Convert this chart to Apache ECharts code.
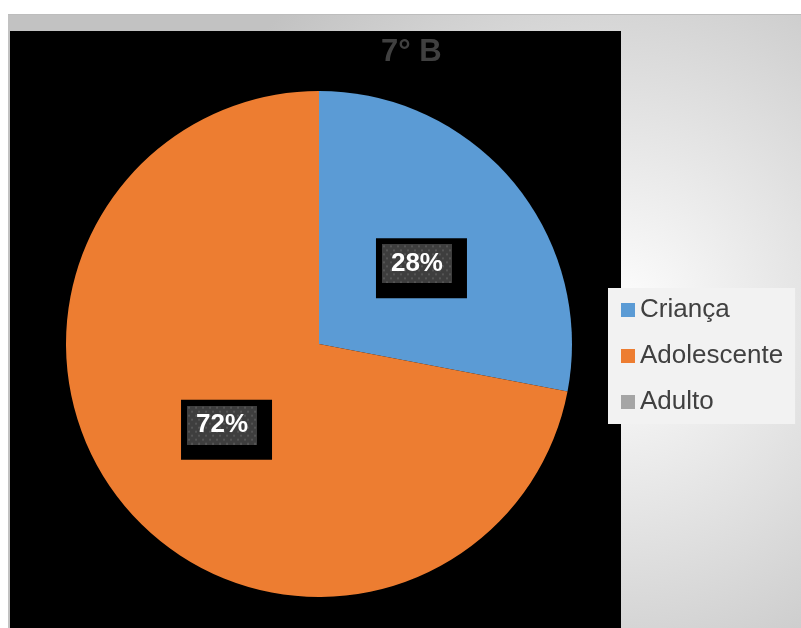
<!DOCTYPE html>
<html>
<head>
<meta charset="utf-8">
<script src="https://cdn.jsdelivr.net/npm/echarts@6/dist/echarts.min.js"></script>
<style>
  html, body { margin: 0; padding: 0; background: #ffffff; }
  #chart { width: 801px; height: 628px; }
</style>
</head>
<body>
<div id="chart"></div>
<script>
// Chart data
const chartTitle = '7° B';
const categories = ['Criança', 'Adolescente', 'Adulto'];
const values = [28, 72, 0];
const colors = ['#5b9bd5', '#ed7d31', '#a5a5a5'];

const FONT = '"Liberation Sans", Arial, Helvetica, sans-serif';

// Dotted dark fill used behind the percentage labels
function makeDotTexture(w, h) {
  const c = document.createElement('canvas');
  c.width = w; c.height = h;
  const ctx = c.getContext('2d');
  ctx.fillStyle = '#3e3e3e';
  ctx.fillRect(0, 0, w, h);
  ctx.fillStyle = '#555555';
  for (let y = 1, row = 0; y < h; y += 4, row++) {
    for (let x = (row % 2) ? 4 : 1; x < w; x += 7) {
      ctx.fillRect(x, y, 2, 2);
    }
  }
  return c;
}
const dotTexture = makeDotTexture(70, 39);

// Middle angle of each slice (clockwise from 12 o'clock), for nudging labels
const total = values.reduce((a, b) => a + b, 0);
const midAngles = [];
values.reduce((acc, v) => {
  midAngles.push((acc + v / 2) / total * Math.PI * 2);
  return acc + v;
}, 0);

const pieData = categories.map((name, i) => ({
  name: name,
  value: values[i],
  itemStyle: { color: colors[i] },
  label: { show: values[i] > 0 }
}));

const chart = echarts.init(document.getElementById('chart'), null, { renderer: 'canvas' });

chart.setOption({
  animation: false,
  backgroundColor: 'transparent',
  graphic: [
    {
      type: 'rect',
      silent: true,
      z: -10,
      shape: { x: 8, y: 14, width: 793, height: 614 },
      style: {
        fill: new echarts.graphic.RadialGradient(610, 320, 450, [
          { offset: 0, color: '#ffffff' },
          { offset: 1, color: '#c2c2c2' }
        ], true)
      }
    },
    {
      type: 'rect',
      silent: true,
      z: -9,
      shape: { x: 8, y: 14, width: 793, height: 1 },
      style: { fill: '#bdbdbd' }
    },
    {
      type: 'rect',
      silent: true,
      z: -8,
      shape: { x: 10, y: 31, width: 611, height: 597 },
      style: { fill: '#000000' }
    }
  ],
  title: {
    text: chartTitle,
    left: 381,
    top: 37,
    padding: 0,
    textStyle: {
      fontFamily: FONT,
      fontSize: 31,
      fontWeight: 'bold',
      color: '#404040'
    }
  },
  legend: {
    orient: 'vertical',
    left: 608,
    top: 288,
    padding: [9, 12, 9, 13],
    backgroundColor: '#f2f2f2',
    itemWidth: 14,
    itemHeight: 14,
    itemGap: 20,
    icon: 'rect',
    data: categories,
    textStyle: {
      fontFamily: FONT,
      fontSize: 26,
      lineHeight: 26,
      color: '#404040',
      padding: [0, 0, 0, 0]
    }
  },
  series: [
    {
      type: 'pie',
      center: [319, 344],
      radius: [0, 253],
      startAngle: 90,
      clockwise: true,
      avoidLabelOverlap: false,
      data: pieData,
      itemStyle: { borderWidth: 0 },
      emphasis: { disabled: true },
      labelLine: { show: false },
      label: {
        position: 'inside',
        formatter: '{in|{d}%}',
        backgroundColor: '#000000',
        padding: [6, 15, 15, 6],
        rich: {
          in: {
            fontFamily: FONT,
            fontSize: 26,
            fontWeight: 'bold',
            color: '#ffffff',
            width: 70,
            height: 39,
            lineHeight: 39,
            align: 'center',
            backgroundColor: { image: dotTexture }
          }
        }
      },
      // keep the text centred on the slice while the black box extends right/down,
      // and pull each label slightly toward the pie centre
      labelLayout: function (params) {
        const a = midAngles[params.dataIndex] || 0;
        const inward = 3;
        return {
          dx: 5 - inward * Math.sin(a),
          dy: 5 + inward * Math.cos(a)
        };
      }
    }
  ]
});
</script>
</body>
</html>
